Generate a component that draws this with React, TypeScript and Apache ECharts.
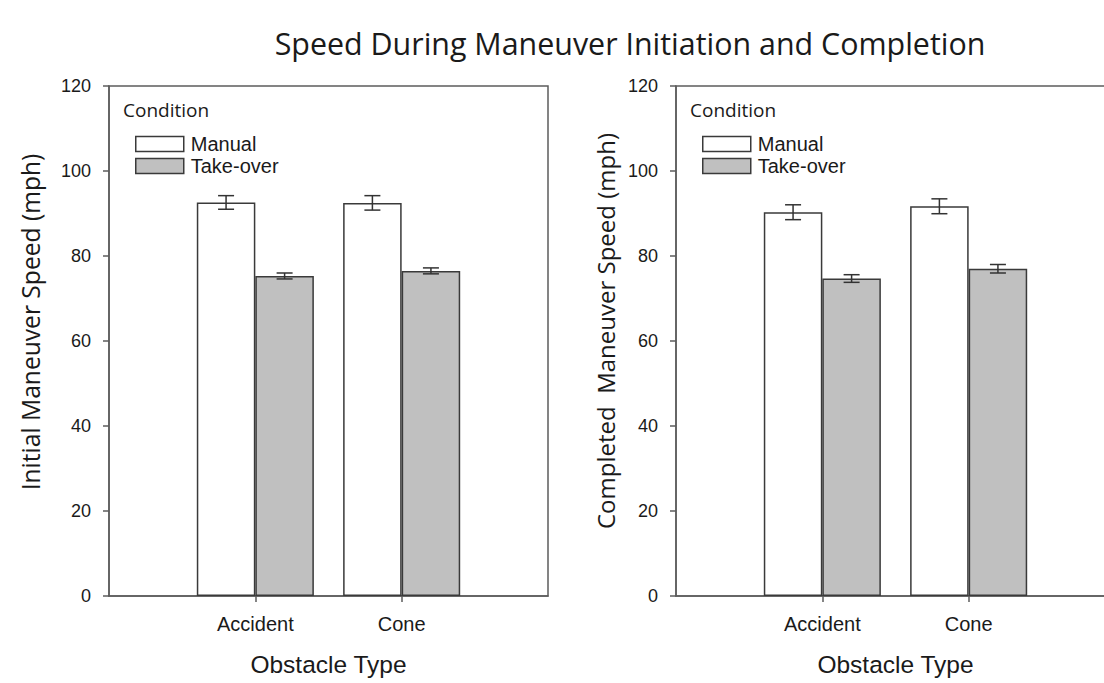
import React, { useEffect, useRef } from "react";
import * as echarts from "echarts";

const categories = ["", "Accident", "Cone", " "];
const conditions = ["Manual", "Take-over"];

// Initial maneuver speed (left panel)
const initialManual = [null, 92.6, 92.5, null];
const initialTakeover = [null, 75.3, 76.5, null];
const initialManualErr = [0, 1.6, 1.7, 0];
const initialTakeoverErr = [0, 0.7, 0.7, 0];

// Completed maneuver speed (right panel)
const completedManual = [null, 90.3, 91.7, null];
const completedTakeover = [null, 74.7, 77.0, null];
const completedManualErr = [0, 1.75, 1.75, 0];
const completedTakeoverErr = [0, 0.9, 1.0, 0];

const yTicks = { min: 0, max: 120, interval: 20 };

const TEXT = "#1a1a1a";
const FRAME = "#5c5c5c";
const BAR_BORDER = "#3a3a3a";
const TAKEOVER_FILL = "#c0c0c0";
const ARIAL = "'Liberation Sans', Arial, sans-serif";
const SEGOE = "'Open Sans', 'Noto Sans', sans-serif";

function errData(vals: (number | null)[], errs: number[], offset: number) {
  const out: number[][] = [];
  vals.forEach((v, i) => {
    if (v != null) out.push([i, v, errs[i], offset]);
  });
  return out;
}

const renderErr = (params: any, api: any) => {
  const idx = api.value(0);
  const val = api.value(1);
  const err = api.value(2);
  const off = api.value(3);
  const band = api.size([1, 0])[0];
  const c = api.coord([idx, val]);
  const x = c[0] + off * band;
  const top = api.coord([idx, val + err])[1];
  const bot = api.coord([idx, val - err])[1];
  const hw = 8;
  const style = { stroke: "#333", lineWidth: 1.5 };
  return {
    type: "group",
    children: [
      { type: "line", shape: { x1: x, y1: top, x2: x, y2: bot }, style },
      { type: "line", shape: { x1: x - hw, y1: top, x2: x + hw, y2: top }, style },
      { type: "line", shape: { x1: x - hw, y1: bot, x2: x + hw, y2: bot }, style },
    ],
  };
};

function makeAxes(gridIndex: number) {
  const xAxis = {
    type: "category",
    gridIndex,
    data: categories,
    boundaryGap: false,
    axisLine: { show: true, lineStyle: { color: FRAME, width: 1.5 } },
    axisTick: {
      show: true,
      inside: false,
      length: 6,
      interval: (i: number) => i === 1 || i === 2,
      lineStyle: { color: FRAME, width: 1.5 },
    },
    axisLabel: {
      interval: 0,
      fontSize: 20,
      fontFamily: ARIAL,
      color: TEXT,
      margin: 18,
    },
    splitLine: { show: false },
    name: "Obstacle Type",
    nameLocation: "middle",
    nameGap: 56,
    nameTextStyle: { fontSize: 24.5, fontFamily: ARIAL, color: TEXT },
  };
  const yAxis = {
    type: "value",
    gridIndex,
    min: yTicks.min,
    max: yTicks.max,
    interval: yTicks.interval,
    axisLine: { show: true, lineStyle: { color: FRAME, width: 1.5 } },
    axisTick: { show: true, inside: false, length: 6, lineStyle: { color: FRAME, width: 1.5 } },
    axisLabel: { fontSize: 18, fontFamily: ARIAL, color: TEXT, margin: 18 },
    splitLine: { show: false },
  };
  return { xAxis, yAxis };
}

function makeSeries(
  gridIndex: number,
  manual: (number | null)[],
  takeover: (number | null)[],
  manualErr: number[],
  takeoverErr: number[]
) {
  return [
    {
      type: "bar",
      name: conditions[0],
      xAxisIndex: gridIndex,
      yAxisIndex: gridIndex,
      data: manual,
      barWidth: "40%",
      barGap: "0%",
      itemStyle: { color: "#ffffff", borderColor: BAR_BORDER, borderWidth: 1.5 },
    },
    {
      type: "bar",
      name: conditions[1],
      xAxisIndex: gridIndex,
      yAxisIndex: gridIndex,
      data: takeover,
      barWidth: "40%",
      barGap: "0%",
      itemStyle: { color: TAKEOVER_FILL, borderColor: BAR_BORDER, borderWidth: 1.5 },
    },
    {
      type: "custom",
      xAxisIndex: gridIndex,
      yAxisIndex: gridIndex,
      renderItem: renderErr,
      data: errData(manual, manualErr, -0.2),
      z: 5,
    },
    {
      type: "custom",
      xAxisIndex: gridIndex,
      yAxisIndex: gridIndex,
      renderItem: renderErr,
      data: errData(takeover, takeoverErr, 0.2),
      z: 5,
    },
  ];
}

function makeLegend(left: number) {
  return {
    orient: "vertical",
    left,
    top: 134,
    padding: 0,
    icon: "rect",
    itemWidth: 48,
    itemHeight: 15,
    itemGap: 2,
    textStyle: {
      fontSize: 20,
      fontFamily: ARIAL,
      color: TEXT,
      padding: [0, 0, 0, 2],
    },
    selectedMode: false,
    data: [
      { name: conditions[0], itemStyle: { color: "#ffffff", borderColor: BAR_BORDER, borderWidth: 1.5 } },
      { name: conditions[1], itemStyle: { color: TAKEOVER_FILL, borderColor: BAR_BORDER, borderWidth: 1.5 } },
    ],
  };
}

function gtext(text: string, x: number, y: number, fontSize: number, rotate = false, align = "center") {
  return {
    type: "text",
    x,
    y,
    rotation: rotate ? Math.PI / 2 : 0,
    style: {
      text,
      fontSize,
      fontFamily: SEGOE,
      fill: TEXT,
      align,
      verticalAlign: "middle",
    },
  };
}

export default function App() {
  const ref = useRef<HTMLDivElement>(null);
  useEffect(() => {
    document.body.style.margin = "0";
    if (!ref.current) return;
    const chart = echarts.init(ref.current, null, { renderer: "svg" });
    const a0 = makeAxes(0);
    const a1 = makeAxes(1);
    const gridBase = {
      top: 86,
      width: 439,
      height: 510,
      show: true,
      borderColor: FRAME,
      borderWidth: 1.5,
      outerBoundsMode: "none",
      containLabel: false,
    };
    const option: any = {
      animation: false,
      backgroundColor: "#ffffff",
      grid: [
        { ...gridBase, left: 109 },
        { ...gridBase, left: 676 },
      ],
      xAxis: [a0.xAxis, a1.xAxis],
      yAxis: [a0.yAxis, a1.yAxis],
      legend: [makeLegend(135), makeLegend(702)],
      series: [
        ...makeSeries(0, initialManual, initialTakeover, initialManualErr, initialTakeoverErr),
        ...makeSeries(1, completedManual, completedTakeover, completedManualErr, completedTakeoverErr),
      ],
      graphic: [
        gtext("Speed During Maneuver Initiation and Completion", 630, 43, 30.4),
        gtext("Initial Maneuver Speed (mph)", 30, 322, 24.6, true),
        gtext("Completed  Maneuver Speed (mph)", 605, 331, 24, true),
        gtext("Condition", 123, 110, 19, false, "left"),
        gtext("Condition", 690, 110, 19, false, "left"),
      ],
    };
    chart.setOption(option);
    return () => chart.dispose();
  }, []);
  return <div ref={ref} style={{ width: 1104, height: 683 }} />;
}
